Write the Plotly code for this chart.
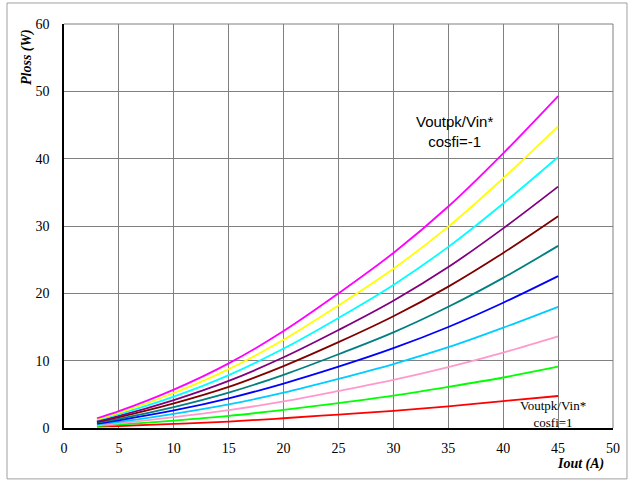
import plotly.graph_objects as go

iout = [3, 5, 10, 15, 20, 25, 30, 35, 40, 45]

ploss_red = [0.2, 0.3, 0.6, 0.95, 1.45, 2.0, 2.55, 3.2, 4.0, 4.75]
ploss_green = [0.3, 0.5, 1.1, 1.8, 2.7, 3.7, 4.8, 6.1, 7.5, 9.1]
ploss_pink = [0.4, 0.7, 1.6, 2.65, 3.95, 5.5, 7.15, 9.05, 11.2, 13.6]
ploss_skyblue = [0.55, 0.9, 2.1, 3.5, 5.25, 7.3, 9.5, 12.0, 14.9, 18.0]
ploss_blue = [0.65, 1.15, 2.6, 4.4, 6.6, 9.1, 11.85, 15.0, 18.6, 22.55]
ploss_teal = [0.8, 1.35, 3.1, 5.25, 7.9, 10.95, 14.2, 18.0, 22.3, 27.05]
ploss_darkred = [0.9, 1.6, 3.65, 6.1, 9.2, 12.75, 16.6, 21.0, 26.0, 31.45]
ploss_purple = [1.05, 1.8, 4.15, 7.0, 10.5, 14.55, 18.9, 23.9, 29.65, 35.85]
ploss_cyan = [1.2, 2.05, 4.65, 7.85, 11.8, 16.35, 21.25, 26.9, 33.35, 40.25]
ploss_yellow = [1.3, 2.25, 5.2, 8.75, 13.1, 18.2, 23.65, 29.9, 37.1, 44.8]
ploss_magenta = [1.45, 2.5, 5.7, 9.6, 14.4, 20.0, 26.0, 32.9, 40.8, 49.3]

series = [
    (ploss_red, "#FF0000"),
    (ploss_green, "#00FF00"),
    (ploss_pink, "#FF99CC"),
    (ploss_skyblue, "#00CCFF"),
    (ploss_blue, "#0000FF"),
    (ploss_teal, "#008080"),
    (ploss_darkred, "#800000"),
    (ploss_purple, "#800080"),
    (ploss_cyan, "#00FFFF"),
    (ploss_yellow, "#FFFF00"),
    (ploss_magenta, "#FF00FF"),
]

x_ticks = [0, 5, 10, 15, 20, 25, 30, 35, 40, 45, 50]
y_ticks = [0, 10, 20, 30, 40, 50, 60]

fig = go.Figure()
for vals, col in series:
    fig.add_trace(go.Scatter(x=iout, y=vals, mode="lines",
                             line=dict(color=col, width=1.8, shape="spline"),
                             showlegend=False, hoverinfo="skip"))

serif = "Liberation Serif"
sans = "Liberation Sans"

fig.update_layout(
    width=635, height=482,
    margin=dict(l=64, r=22, t=24, b=54),
    paper_bgcolor="white", plot_bgcolor="white",
    xaxis=dict(range=[0, 50], tickvals=x_ticks, showgrid=True, gridcolor="#808080", gridwidth=1,
               showline=True, linecolor="black", linewidth=1.5, zeroline=False,
               ticks="", ticklabelstandoff=6,
               tickfont=dict(family=serif, size=14, color="black")),
    yaxis=dict(range=[0, 60], tickvals=y_ticks, showgrid=True, gridcolor="#808080", gridwidth=1,
               showline=True, linecolor="black", linewidth=1.5, zeroline=False,
               ticks="", ticklabelstandoff=10,
               tickfont=dict(family=serif, size=14, color="black")),
    shapes=[
        dict(type="line", xref="paper", yref="paper", x0=0, x1=1, y0=1, y1=1,
             line=dict(color="#808080", width=1)),
        dict(type="line", xref="paper", yref="paper", x0=1, x1=1, y0=0, y1=1,
             line=dict(color="#808080", width=1)),
        dict(type="rect", xref="paper", yref="paper", x0=-0.1038, x1=1.0255, y0=-0.126, y1=1.052,
             line=dict(color="#A0A0A0", width=1), fillcolor="rgba(0,0,0,0)"),
    ],
    annotations=[
        dict(text="<b><i>Ploss (W)</i></b>", xref="paper", yref="paper",
             x=(27 - 64) / 549, y=(428 - 57) / 404, textangle=-90, showarrow=False,
             font=dict(family=serif, size=14, color="black"), xanchor="center", yanchor="middle"),
        dict(text="<b><i>Iout (A)</i></b>", xref="paper", yref="paper",
             x=(580 - 64) / 549, y=(428 - 464) / 404, showarrow=False,
             font=dict(family=serif, size=14, color="black"), xanchor="center", yanchor="middle"),
        dict(text="Voutpk/Vin*<br>cosfi=-1", x=35.6, y=44.0, showarrow=False,
             font=dict(family=sans, size=15, color="black"), xanchor="center", yanchor="middle"),
        dict(text="Voutpk/Vin*<br>cosfi=1", x=44.5, y=2.1, showarrow=False,
             font=dict(family=serif, size=13, color="black"), xanchor="center", yanchor="middle"),
    ],
)

fig.write_html("out.html")
